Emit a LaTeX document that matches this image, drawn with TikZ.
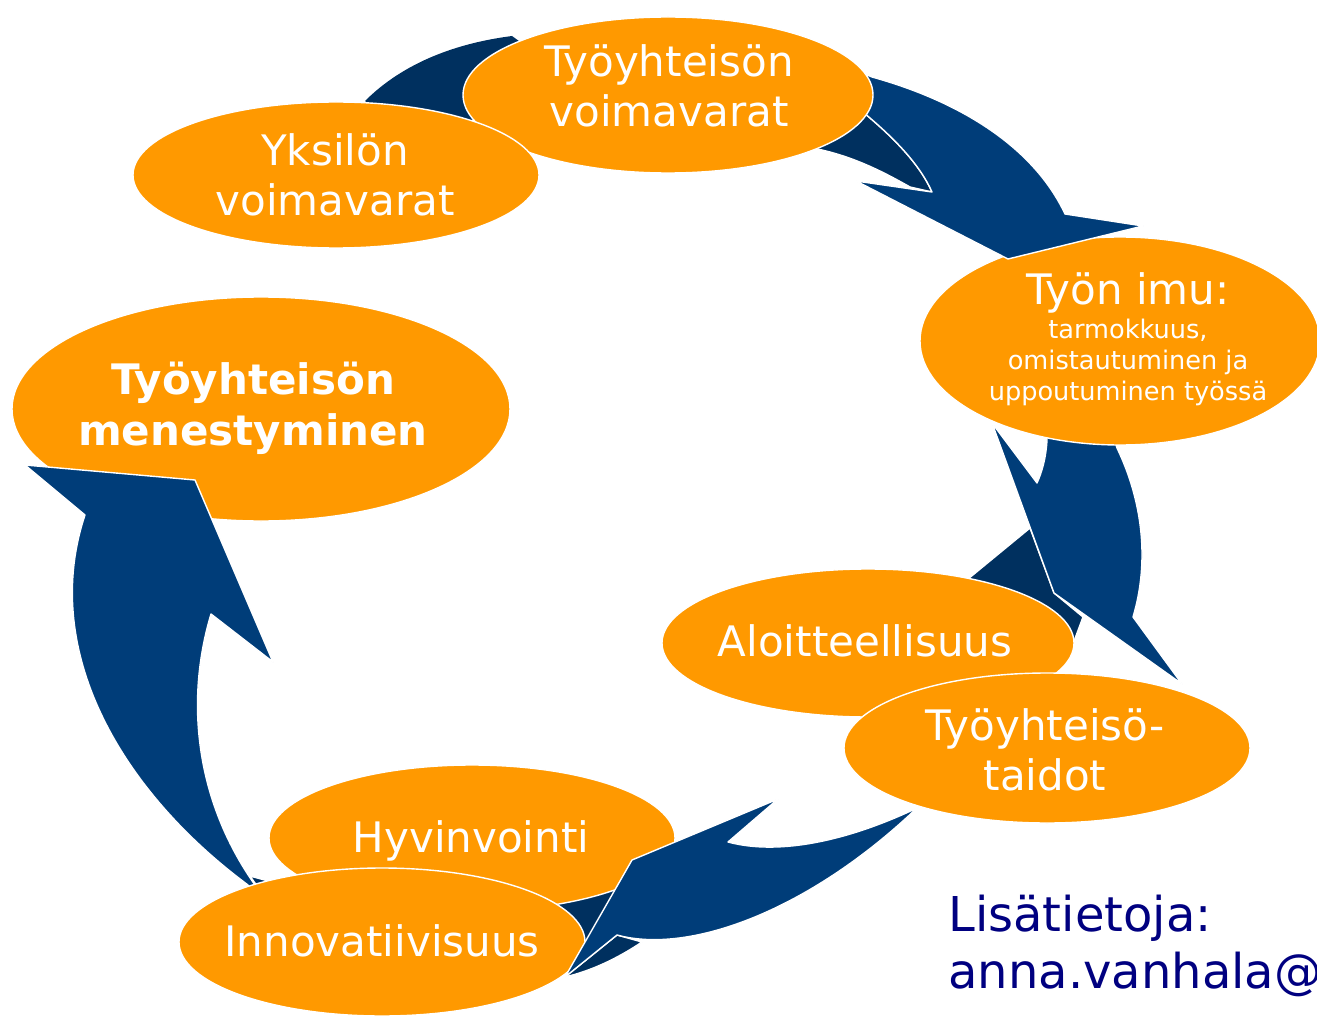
\documentclass[tikz,border=0pt]{standalone}
\usepackage{fontspec}
\setmainfont{DejaVu Sans}
\usetikzlibrary{shapes.geometric}
\definecolor{bubbleorange}{HTML}{FF9900}
\definecolor{arrowblue}{HTML}{003D79}
\definecolor{arrowdark}{HTML}{00305F}
\definecolor{infonavy}{HTML}{000080}
\newcommand\imubig{\fontsize{21}{25}\selectfont}
\tikzset{
  bubble/.style={ellipse,draw=white,line width=0.7pt,fill=bubbleorange,inner sep=0pt},
  bubbletext/.style={text=white,align=center,inner sep=0pt,font=\fontsize{21}{25}\selectfont},
  boldtext/.style={bubbletext,font=\fontsize{21}{25.5}\selectfont\bfseries},
  smalltext/.style={bubbletext,font=\fontsize{12.8}{15.5}\selectfont},
  bigarrow/.style={fill=arrowblue,draw=white,line width=0.7pt,line join=round},
  shadearrow/.style={fill=arrowdark,draw=white,line width=0.7pt,line join=round},
  infotext/.style={text=infonavy,align=left,inner sep=0pt,
    font=\fontsize{24}{28.5}\selectfont}
}
\begin{document}
\begin{tikzpicture}[x=0.5pt,y=-0.5pt]
  \useasboundingbox (0,0) rectangle (1317,1016);
  % arrow hidden behind the two top bubbles
  \fill[arrowdark] (365,101) .. controls (400,66) and (450,44) .. (512,36)
    -- (545,60) -- (520,112) -- (440,125) -- (380,112) -- cycle;
  % right arrow, down to the middle bubbles
  \filldraw[shadearrow] (1030,528) -- (1054,593) -- (1083,617) -- (1070,652)
    -- (980,600) -- (968,579) -- cycle;
  \filldraw[bigarrow] (1047,425) -- (1047,440) .. controls (1046,458) and (1042,472) .. (1037,483)
    -- (992,423) -- (1054,593) -- (1182,684) -- (1133,617)
    .. controls (1150,560) and (1142,500) .. (1117,448) -- (1110,425) -- cycle;
  \node[bubble,minimum width=200pt,minimum height=104pt] (imu) at (1120,341) {};
  \node[smalltext] (imu-text) at (1128,339)
    {\imubig Työn imu:\\[1.5pt]tarmokkuus,\\omistautuminen ja\\uppoutuminen työssä};
  % top right arrow
  \filldraw[shadearrow] (800,146) .. controls (845,152) and (880,170) .. (910,187)
    -- (932,192) .. controls (920,165) and (895,138) .. (858,108) -- cycle;
  \filldraw[bigarrow] (850,68) -- (872,77) .. controls (962,102) and (1034,148) .. (1065,214)
    -- (1143,226) -- (1008,259) -- (856,181) -- (932,192)
    .. controls (920,165) and (895,138) .. (858,108) -- cycle;
  \node[bubble,minimum width=205pt,minimum height=78pt] (teamres) at (668,95) {};
  \node[bubbletext] (teamres-text) at (669,86) {Työyhteisön\\voimavarat};
  \node[bubble,minimum width=203pt,minimum height=73pt] (ownres) at (336,175) {};
  \node[bubbletext] (ownres-text) at (335,175) {Yksilön\\voimavarat};
  \node[bubble,minimum width=249pt,minimum height=112pt] (success) at (261,409) {};
  \node[boldtext] (success-text) at (253,408) {Työyhteisön\\menestyminen};
  % left arrow, up to the success bubble
  \filldraw[bigarrow] (252,897) -- (248,885) .. controls (120,790) and (40,650) .. (85,515)
    -- (25,465) -- (195,480) -- (273,662) -- (211,614)
    .. controls (185,700) and (195,800) .. (255,885) -- cycle;
  \filldraw[shadearrow] (250,876) -- (272,882) -- (262,893) -- cycle;
  % bottom arrow, under sides first
  \filldraw[shadearrow] (545,900) -- (625,880) -- (592,945) -- (560,945) -- cycle;
  \filldraw[shadearrow] (565,977) -- (617,935) -- (642,942) .. controls (615,960) and (590,971) .. (565,977) -- cycle;
  \node[bubble,minimum width=203pt,minimum height=73pt] (wellbeing) at (472,838) {};
  \node[bubbletext] (wellbeing-text) at (471,841) {Hyvinvointi};
  \node[bubble,minimum width=203pt,minimum height=74pt] (innovation) at (382,942) {};
  \node[bubbletext] (innovation-text) at (382,941) {Innovatiivisuus};
  \filldraw[bigarrow] (925,800) -- (917,808) .. controls (850,840) and (780,856) .. (728,842)
    -- (778,799) -- (632,860) -- (565,977) -- (617,935)
    .. controls (690,955) and (810,910) .. (917,808) -- cycle;
  \node[bubble,minimum width=206pt,minimum height=74pt] (initiative) at (868,643) {};
  \node[bubbletext] (initiative-text) at (865,641) {Aloitteellisuus};
  \node[bubble,minimum width=203pt,minimum height=75pt] (teamskills) at (1047,748) {};
  \node[bubbletext] (teamskills-text) at (1045,750) {Työyhteisö-\\taidot};
  \node[infotext,anchor=base west] (info) at (948,988) {Lisätietoja:\\anna.vanhala@};
\end{tikzpicture}
\end{document}
